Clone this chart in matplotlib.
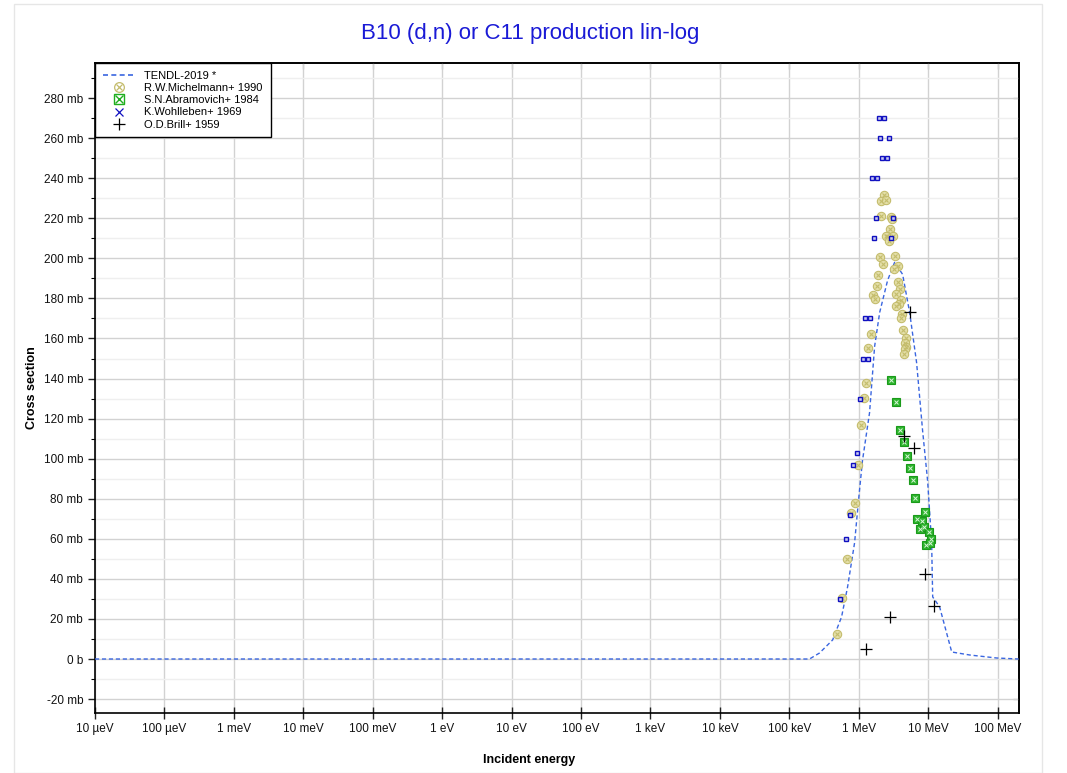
import matplotlib
matplotlib.use("Agg")
import matplotlib.pyplot as plt
from matplotlib.lines import Line2D
from matplotlib.legend_handler import HandlerTuple
from matplotlib.patches import Rectangle
from matplotlib.ticker import FixedLocator, MultipleLocator, FuncFormatter
import numpy as np

plt.rcParams["font.family"] = ["Liberation Sans", "DejaVu Sans"]

# TENDL-2019 evaluation (energy in MeV, cross section in mb)
tendl_e = [1e-11, 0.195, 0.272, 0.42, 0.565, 0.69, 0.87, 0.99, 1.13, 1.43, 1.69,
           2.0, 2.6, 3.28, 4.28, 5.4, 6.8, 8.3, 9.8, 11.2, 11.6, 14.6, 21.8, 39.6,
           97.0, 200.0]
tendl_xs = [0, 0, 3, 9.5, 21, 36, 58, 79, 99, 123, 156,
            173, 189, 198, 192, 173, 148, 114, 89, 58, 31, 26, 3.5, 2,
            0.5, 0]

# R.W.Michelmann+ 1990
mich_e = [2.30, 2.06, 2.43, 2.11, 2.87, 3.00, 2.78, 2.57, 3.10, 2.43, 2.69, 1.99,
          3.31, 2.20, 3.71, 3.21, 1.91, 3.62, 1.81, 3.91, 1.58, 3.47, 1.69, 4.00,
          3.75, 3.39, 4.18, 4.10, 1.48, 4.28, 4.84, 1.38, 4.57, 4.84, 4.57, 4.42,
          1.28, 1.18, 1.06, 0.99, 0.88, 0.77, 0.68, 0.58, 0.48]
mich_xs = [231.7, 228.7, 229, 221, 220.7, 219.6, 214.5, 211, 211, 211.3, 208.8, 200.6,
           201.3, 197, 196.3, 194.6, 191.6, 188.3, 186.3, 184.8, 181.7, 182.2, 179.7, 179,
           177, 176.3, 172.3, 170.3, 162, 164, 160.4, 155.4, 157.6, 155.9, 154.7, 152.2,
           137.6, 130.1, 116.6, 96.7, 78, 72.7, 50.1, 30.4, 12.5]

# S.N.Abramovich+ 1984
abra_e = [2.94, 3.47, 3.96, 4.47, 5.00, 5.52, 6.02, 6.52, 9.09, 6.97, 8.12, 7.52,
          8.59, 10.1, 11.1, 9.40, 10.5]
abra_xs = [139.2, 128.3, 114.3, 108.2, 101.3, 95.2, 89.3, 80.2, 73.2, 69.9, 68.9, 64.7,
           66, 63.5, 60, 56.7, 57.7]

# K.Wohlleben+ 1969
wohl_e = [1.95, 2.30, 2.04, 2.69, 2.15, 2.52, 1.55, 1.85, 1.75, 3.07, 1.63, 2.87,
          1.24, 1.45, 1.15, 1.35, 1.04, 0.94, 0.82, 0.74, 0.645, 0.53]
wohl_xs = [270, 270, 260, 260, 250, 250, 240, 240, 220, 220, 210, 210,
           170, 170, 150, 150, 130, 103, 97, 72, 60, 30]

# O.D.Brill+ 1959
brill_e = [5.45, 4.47, 6.22, 8.97, 2.78, 1.28, 12.1]
brill_xs = [173.3, 111.3, 105.2, 42.3, 21, 5.1, 26.5]

x_ticks = [1e-5 * 10 ** i for i in range(14)]
x_labels = ["10 µeV", "100 µeV", "1 meV", "10 meV", "100 meV", "1 eV", "10 eV",
            "100 eV", "1 keV", "10 keV", "100 keV", "1 MeV", "10 MeV", "100 MeV"]

MEV = 1e6

fig = plt.figure(figsize=(10.67, 7.73), dpi=100)
fig.patches.append(Rectangle((14 / 1067, 0), 1028 / 1067, 1 - 4 / 773,
                             transform=fig.transFigure, fill=False,
                             edgecolor="#e6e6e6", lw=1))
ax = fig.add_axes([95 / 1067, 1 - 712.7 / 773, 924 / 1067, 649.7 / 773])

ax.plot(np.array(tendl_e) * MEV, tendl_xs, ls=(0, (3, 2)), color="#3a66e0",
        lw=1.0, zorder=3)

ax.plot(np.array(mich_e) * MEV, mich_xs, ls="none", marker="o", ms=6,
        mfc="#e4dfa8", mec="#c4bc6c", mew=0.8, zorder=4)
ax.plot(np.array(mich_e) * MEV, mich_xs, ls="none", marker="x", ms=3.5,
        color="#c4bc6c", mew=0.8, zorder=5)

ax.plot(np.array(abra_e) * MEV, abra_xs, ls="none", marker="s", ms=6,
        mfc="#2fb52f", mec="#1a9a1a", mew=0.8, zorder=4)
ax.plot(np.array(abra_e) * MEV, abra_xs, ls="none", marker="x", ms=3.5,
        color="#d8f5d8", mew=0.7, zorder=5)

ax.plot(np.array(wohl_e) * MEV, wohl_xs, ls="none", marker="s", ms=3.2,
        mfc="#c8c8f0", mec="#1010c0", mew=1.0, zorder=6)

ax.plot(np.array(brill_e) * MEV, brill_xs, ls="none", marker="+", ms=8,
        color="black", mew=0.9, zorder=6)

ax.set_xscale("log")
ax.set_xlim(1e-5, 2.03e8)
ax.set_ylim(-26.8, 297.5)

ax.xaxis.set_major_locator(FixedLocator(x_ticks))
ax.set_xticklabels(x_labels)
ax.xaxis.set_minor_locator(FixedLocator([]))
ax.yaxis.set_major_locator(MultipleLocator(20))
ax.yaxis.set_minor_locator(MultipleLocator(10))
ax.yaxis.set_major_formatter(FuncFormatter(
    lambda v, p: "0 b" if abs(v) < 1e-9 else "%d mb" % round(v)))

ax.grid(True, which="major", color="#d2d2d2", lw=1.0)
ax.grid(True, which="minor", axis="y", color="#efefef", lw=1.0)
ax.set_axisbelow(True)

ax.tick_params(axis="both", which="major", labelsize=8.5, colors="#222222",
               labelcolor="#111111")
ax.tick_params(axis="x", which="major", direction="inout", length=8, width=1)
ax.tick_params(axis="y", which="major", direction="out", length=5, width=1)
ax.tick_params(axis="y", which="minor", direction="out", length=3, width=0.8)
# short inward ticks on the right and top spines
ax_r = ax.secondary_yaxis("right")
ax_r.yaxis.set_major_locator(MultipleLocator(20))
ax_r.yaxis.set_minor_locator(MultipleLocator(10))
ax_r.tick_params(which="major", direction="in", length=4, labelright=False)
ax_r.tick_params(which="minor", direction="in", length=2, labelright=False)
ax_t = ax.secondary_xaxis("top")
ax_t.xaxis.set_major_locator(FixedLocator(x_ticks))
ax_t.xaxis.set_minor_locator(FixedLocator([]))
ax_t.tick_params(which="major", direction="in", length=4, labeltop=False)
for a in (ax, ax_r, ax_t):
    for sp in a.spines.values():
        sp.set_linewidth(1.2)
        sp.set_color("black")

ax.set_ylabel("Cross section", fontsize=9, fontweight="bold")
ax.yaxis.set_label_coords(-0.062, 0.5)
ax.set_xlabel("Incident energy", fontsize=9, fontweight="bold")
ax.xaxis.set_label_coords(0.47, -0.063)
fig.text(0.497, 0.957, "B10 (d,n) or C11 production lin-log", ha="center",
         va="center", fontsize=16, color="#1a1ad6")

h_tendl = Line2D([], [], ls=(0, (3, 2)), color="#3a66e0", lw=1.2)
h_mich = (Line2D([], [], ls="none", marker="o", ms=7, mfc="none", mec="#c4bc6c", mew=0.9),
          Line2D([], [], ls="none", marker="x", ms=5, color="#c4bc6c", mew=0.9))
h_abra = (Line2D([], [], ls="none", marker="s", ms=7, mfc="none", mec="#1fae1f", mew=1.0),
          Line2D([], [], ls="none", marker="x", ms=6, color="#1fae1f", mew=1.0))
h_wohl = Line2D([], [], ls="none", marker="x", ms=6, color="#1010c0", mew=0.9)
h_brill = Line2D([], [], ls="none", marker="+", ms=9, color="black", mew=0.9)
leg = ax.legend([h_tendl, h_mich, h_abra, h_wohl, h_brill],
                ["TENDL-2019 *", "R.W.Michelmann+ 1990", "S.N.Abramovich+ 1984",
                 "K.Wohlleben+ 1969", "O.D.Brill+ 1959"],
                handler_map={tuple: HandlerTuple(ndivide=1, pad=0)},
                loc="upper left", borderaxespad=0, fontsize=8, fancybox=False,
                framealpha=1, edgecolor="black", labelspacing=0.2,
                handlelength=3.0, handletextpad=0.75, borderpad=0.7)
leg.get_frame().set_linewidth(1.0)

fig.savefig("out.png", dpi=100)
